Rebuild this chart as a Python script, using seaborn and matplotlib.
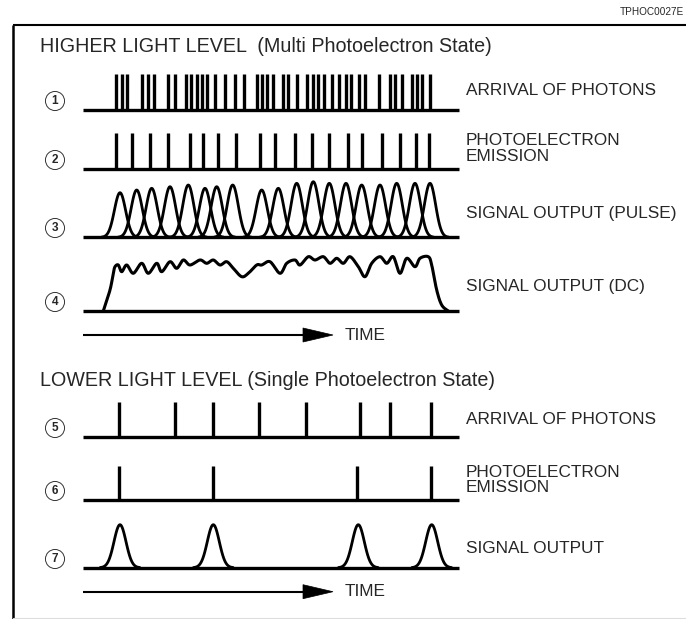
import numpy as np
import pandas as pd
import matplotlib
matplotlib.use("Agg")
import matplotlib.pyplot as plt
import seaborn as sns
from matplotlib.patches import Polygon

sns.set_theme(style="white")
plt.rcParams['font.family'] = ['Liberation Sans', 'DejaVu Sans']

# ---------------- data (time positions) ----------------
arrival_high = [116, 121.5, 127, 142, 147.5, 154, 168.3, 175, 186, 191, 196.7, 202.3,
                207.3, 215, 225, 235, 244.3, 256.7, 261.7, 267.3, 273.3, 282.7, 288.3,
                297.3, 306.7, 312.7, 318.3, 324.3, 331.7, 339.3, 346, 351, 359.3, 365,
                379.3, 390, 395, 401.7, 411.7, 417.3, 421.7, 430]
emission_high = [116, 131.7, 150, 168.3, 190, 202.7, 218.3, 236, 260, 275, 295, 311.7,
                 329.3, 348.3, 361.7, 381.7, 400, 416, 429.3]
pulse_peak_high = [120, 136.7, 151.7, 170, 188.3, 205, 216.7, 232.7, 261.7, 278.3,
                   296.7, 313.3, 329.3, 346, 361.7, 380, 396.7, 415, 430]
pulse_height_high = [44.6, 47.3, 49, 50.6, 52.3, 49, 50.6, 52.3, 47.3, 49, 54, 55.6,
                     54, 54, 52.3, 52.3, 54, 54, 54]
dc_time = [103.3, 110, 113.3, 115, 118.3, 121.7, 126.7, 133.3, 141.7, 148.3, 156.7,
           161.7, 170, 176.7, 183.3, 190, 200, 206.7, 213.3, 220, 226.7, 233.3, 241.7,
           248.3, 256.7, 261.7, 270, 280, 286.7, 295, 300, 308.3, 315, 323.3, 330,
           336.7, 343.3, 350, 358.3, 365, 371.7, 380, 386.7, 393.3, 400, 406.7, 415,
           420, 428.3, 431.7, 436.7, 441.7, 448.3]
dc_level = [0, 21, 37.7, 44.3, 46, 39.3, 46, 37.7, 47.7, 37.7, 47.7, 39.3, 49.3, 42.7,
            51, 46, 51, 47.7, 51, 46, 49.3, 42.7, 34.3, 37.7, 46, 46, 49.3, 37.7, 47.7,
            51, 46, 54.3, 51, 54.3, 47.7, 52.7, 47.7, 54.3, 44.3, 34.3, 47.7, 54.3,
            47.7, 54.3, 37.7, 52.7, 44.3, 52.7, 54.3, 46, 21, 6, 0]
arrival_low = [119.3, 175, 212.7, 259, 305.7, 360, 390, 430.7]
emission_low = [119.3, 212.7, 357.3, 430.7]
pulse_peak_low = [120, 213.3, 358.3, 431.7]
pulse_height_low = [43, 43, 43, 43]

row_numbers = ["1", "2", "3", "4", "5", "6", "7"]
row_labels = ["ARRIVAL OF PHOTONS", "PHOTOELECTRON\nEMISSION", "SIGNAL OUTPUT (PULSE)",
              "SIGNAL OUTPUT (DC)", "ARRIVAL OF PHOTONS", "PHOTOELECTRON\nEMISSION",
              "SIGNAL OUTPUT"]
title_high = "HIGHER LIGHT LEVEL  (Multi Photoelectron State)"
title_low = "LOWER LIGHT LEVEL (Single Photoelectron State)"
time_label = "TIME"
code_label = "TPHOC0027E"

# ---------------- layout ----------------
W, H = 686, 619
fig = plt.figure(figsize=(W / 100, H / 100), dpi=100)
ax = fig.add_axes([0, 0, 1, 1])
ax.set_xlim(0, W)
ax.set_ylim(H, 0)
ax.axis("off")

base = [110, 169.3, 237.3, 311, 436.7, 500, 567.7]
spike_h = [36, 36.6, None, None, 35, 34, None]
x0, x1 = 83, 459
LW = 2.4
label_x = 466
label_y = [90.7, 148.3, 213.3, 286.7, 420, 480, 548.3]
num_x = 55
num_y = [101, 160, 228, 302, 428, 491, 559]


def catmull(x, y, n=12):
    P = np.column_stack([x, y])
    P = np.vstack([P[0], P, P[-1]])
    out = []
    t = np.linspace(0, 1, n, endpoint=False)[:, None]
    for i in range(1, len(P) - 2):
        p0, p1, p2, p3 = P[i - 1], P[i], P[i + 1], P[i + 2]
        out.append(0.5 * (2 * p1 + (-p0 + p2) * t + (2 * p0 - 5 * p1 + 4 * p2 - p3) * t ** 2
                          + (-p0 + 3 * p1 - 3 * p2 + p3) * t ** 3))
    out.append(P[-2][None])
    return np.vstack(out)


def baseline(r):
    ax.plot([x0, x1], [base[r], base[r]], color="black", lw=LW, solid_capstyle="butt")


def spikes(r, times):
    ax.vlines(times, base[r], base[r] - spike_h[r], color="black", lw=2.4)


def pulses(r, peaks, heights, sigma):
    for p, h in zip(peaks, heights):
        t = np.linspace(p - 3.3 * sigma, p + 3.3 * sigma, 80)
        y = base[r] - h * np.exp(-0.5 * ((t - p) / sigma) ** 2)
        sns.lineplot(x=t, y=y, ax=ax, color="black", lw=2.0, sort=False, estimator=None)


def time_arrow(y):
    ax.plot([x0, 305], [y, y], color="black", lw=1.5, solid_capstyle="butt")
    ax.add_patch(Polygon([[303, y - 7], [333, y], [303, y + 7]], closed=True,
                         fc="black", ec="black", lw=0.5))
    ax.text(345, y, time_label, fontsize=12.4, va="center", ha="left")


# frame
ax.plot([12.5, W], [25, 25], color="black", lw=1.5, solid_capstyle="butt")
ax.plot([12.5, 12.5], [24.5, H], color="black", lw=1.8, solid_capstyle="butt")
ax.plot([12.5, W], [618, 618], color="#dddddd", lw=0.8)
ax.text(684, 12, code_label, fontsize=7.2, ha="right", va="center")

ax.text(40, 47, title_high, fontsize=14.2, ha="left", va="center")
ax.text(40, 381, title_low, fontsize=14.2, ha="left", va="center")

# rows
for r in range(7):
    baseline(r)
spikes(0, arrival_high)
spikes(1, emission_high)
pulses(2, pulse_peak_high, pulse_height_high, 5.6)
pts = catmull(dc_time, dc_level)
sns.lineplot(x=pts[:, 0], y=base[3] - pts[:, 1], ax=ax, color="black", lw=2.2,
             sort=False, estimator=None)
spikes(4, arrival_low)
spikes(5, emission_low)
pulses(6, pulse_peak_low, pulse_height_low, 6.0)
time_arrow(335)
time_arrow(591.7)

for r in range(7):
    ax.text(label_x, label_y[r], row_labels[r], fontsize=12.4, ha="left", va="center",
            linespacing=1.05)
    ax.text(num_x, num_y[r], row_numbers[r], fontsize=8.5, fontweight="bold",
            ha="center", va="center",
            bbox=dict(boxstyle="circle,pad=0.3", fc="white", ec="#333333", lw=0.7))

fig.savefig("out.png", dpi=100)
